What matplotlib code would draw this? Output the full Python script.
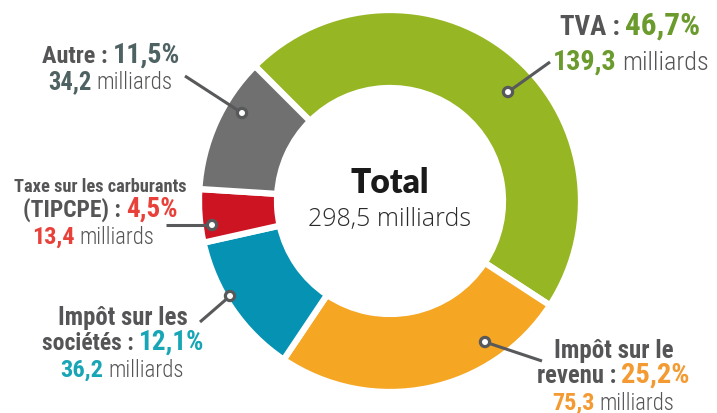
import matplotlib
matplotlib.use("Agg")
import matplotlib.pyplot as plt
from matplotlib.patches import Circle

# data
categories = ["TVA", "Impôt sur le revenu", "Impôt sur les sociétés",
              "Taxe sur les carburants (TIPCPE)", "Autre"]
shares = [46.7, 25.2, 12.1, 4.5, 11.5]
amounts = [139.3, 75.3, 36.2, 13.4, 34.2]
total = 298.5

wedge_colors = ["#96B624", "#F5A623", "#0592B3", "#CC1422", "#707070"]
number_colors = ["#6B9A2D", "#F39A32", "#18A5B5", "#E8413A", "#4F6263"]
label_gray = "#555557"

W, H = 717, 414
fig = plt.figure(figsize=(W / 100, H / 100), dpi=100)
ax = fig.add_axes([0, 0, 1, 1])

cx, cy = 390, H - 202
R = 191
ax.pie(shares, colors=wedge_colors, startangle=135, counterclock=False,
       radius=R, center=(cx, cy),
       wedgeprops=dict(width=78, edgecolor="white", linewidth=4.5))
ax.set_xlim(0, W)
ax.set_ylim(0, H)
ax.set_aspect("auto")
ax.axis("off")

renderer = fig.canvas.get_renderer()
NARROW = ["Liberation Sans Narrow", "Roboto Condensed", "DejaVu Sans"]


def fmt(v):
    return f"{v:.1f}".replace(".", ",")


def rich_line(x0, x1, y_img, parts):
    # parts: (text, color, rel size, weight); line is fitted between x0 and x1
    gap = 5
    texts = []
    for s, color, size, weight in parts:
        t = ax.text(0, H - y_img, s, color=color, fontsize=size,
                    fontweight=weight, family=NARROW, fontstretch="condensed",
                    ha="left", va="baseline")
        texts.append(t)
    gaps = gap * (len(texts) - 1)
    w = sum(t.get_window_extent(renderer).width for t in texts)
    k = (x1 - x0 - gaps) / w
    for t in texts:
        t.set_fontsize(t.get_fontsize() * k)
    x = x0
    for t in texts:
        t.set_x(x)
        x += t.get_window_extent(renderer).width + gap


def leader(dot, end):
    ax.plot([dot[0], end[0]], [H - dot[1], H - end[1]], color="#58595B", lw=2.2,
            solid_capstyle="butt", zorder=5)
    ax.add_patch(Circle((dot[0], H - dot[1]), 4.6, facecolor="white",
                        edgecolor="#58595B", lw=2.3, zorder=6))


LS, NS = 13, 15  # relative label / number size


def pct_line(x0, x1, y, label, i):
    rich_line(x0, x1, y, [(label, label_gray, LS, "bold"),
                          (fmt(shares[i]) + "%", number_colors[i], NS, "bold")])


def amount_line(x0, x1, y, i):
    rich_line(x0, x1, y, [(fmt(amounts[i]), number_colors[i], NS, "bold"),
                          ("milliards", label_gray, LS + 1, "light")])


# TVA
pct_line(560, 700, 35, "TVA :", 0)
amount_line(553, 708, 70, 0)
leader((508, 93), (550, 63))

# Impôt sur le revenu
rich_line(554, 673, 358, [("Impôt sur le", label_gray, LS, "bold")])
pct_line(537, 690, 383, "revenu :", 1)
amount_line(552, 675, 410, 1)
leader((485, 343), (542, 362))

# Impôt sur les sociétés
rich_line(58, 187, 325, [("Impôt sur les", label_gray, LS, "bold")])
pct_line(42, 204, 350, "sociétés :", 2)
amount_line(60, 184, 377, 2)
leader((230, 297), (200, 323))

# TIPCPE
rich_line(14, 186, 192, [("Taxe sur les carburants", label_gray, LS, "bold")])
pct_line(23, 177, 217, "(TIPCPE) :", 3)
amount_line(32, 155, 244, 3)
leader((212, 226), (166, 226))

# Autre
pct_line(42, 180, 63, "Autre :", 4)
amount_line(48, 173, 89, 4)
leader((242, 114), (185, 77))

# centre
ax.text(cx, H - 193, "Total", ha="center", va="baseline", fontsize=24,
        fontweight="heavy", family=["Lato", "DejaVu Sans"], color="#1A1A1A")
ax.text(cx, H - 226, fmt(total) + " milliards", ha="center", va="baseline",
        fontsize=18, fontweight="light", family=["Open Sans", "DejaVu Sans"],
        color="#2A2A2A")

fig.savefig("out.png", dpi=100)
